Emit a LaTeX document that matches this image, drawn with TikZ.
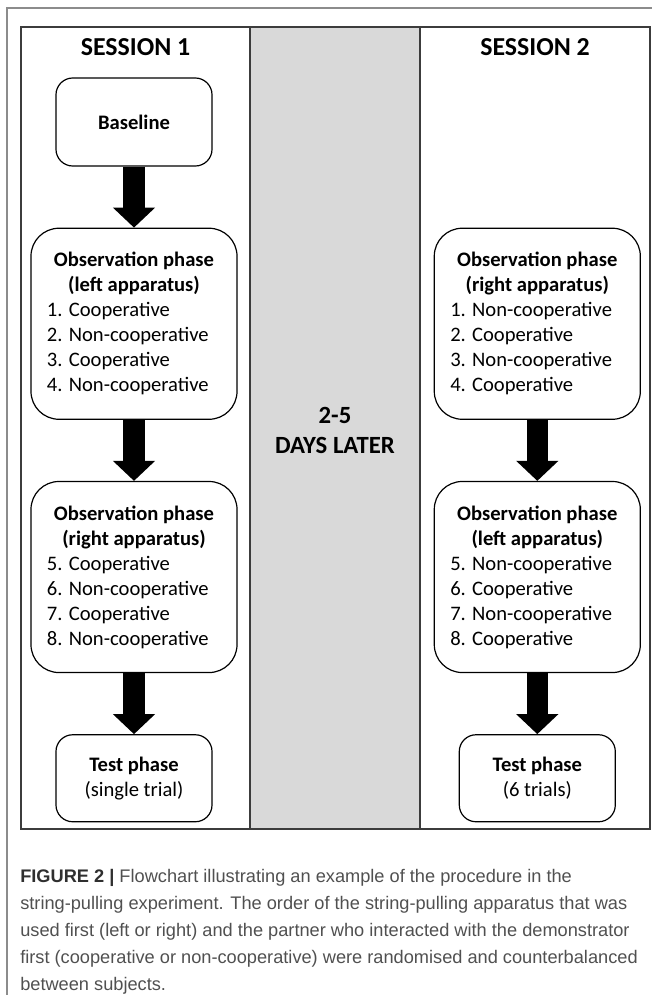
\documentclass[tikz,border=0pt]{standalone}
\usepackage{fontspec}
\setmainfont{Carlito}
\newfontfamily\capfont{Liberation Sans}
\usetikzlibrary{positioning,arrows.meta}
\definecolor{framegray}{HTML}{8C8C8C}
\definecolor{tablegray}{HTML}{3C3C3C}
\definecolor{gapgray}{HTML}{D9D9D9}
\definecolor{captext}{HTML}{505050}
\definecolor{capbold}{HTML}{2F2F2F}

\begin{document}
\begin{tikzpicture}[
    x=0.025cm, y=-0.025cm,
    node distance=1.525cm and 4.9cm,
    box/.style={rectangle, rounded corners=#1, draw=black, line width=0.85pt,
                align=center, inner sep=0pt,
                font=\fontsize{14.65}{17.8}\selectfont},
    small/.style={box=0.42cm, minimum width=3.9cm},
    obs/.style={box=0.7cm, minimum width=5.15cm, minimum height=4.775cm},
    head/.style={align=center, font=\bfseries\fontsize{18.4}{21.3}\selectfont},
    arr/.style={-{Triangle[width=1.025cm, length=0.5cm]}, line width=0.525cm},
    capnote/.style={align=left, inner sep=0pt, text=captext,
                font=\capfont\fontsize{12.95}{19.2}\selectfont}
]
\useasboundingbox (0,0) rectangle (652,995);

% frame and table
\draw[framegray, line width=0.75pt] (7,995) -- (7,8) -- (652,8);
\fill[gapgray] (250,27) rectangle (420,829);
\draw[tablegray, line width=0.9pt] (21,27) rectangle (650,829);
\draw[tablegray, line width=0.9pt] (250,27) -- (250,829);
\draw[tablegray, line width=0.9pt] (420,27) -- (420,829);

% headers
\node[head] (sessA) at (135.5,47) {SESSION 1};
\node[head] (sessB) at (535,47) {SESSION 2};
\node[head, font=\bfseries\fontsize{17.6}{21.3}\selectfont] (later) at (335,430) {2-5\\DAYS LATER};

% session 1
\node[small, minimum height=2.2cm] (baseA) at (134,122) {\textbf{Baseline}};
\node[obs, below=of baseA] (obsA1) {\textbf{Observation phase}\\\textbf{(left apparatus)}\\
    \parbox[t]{4.35cm}{1. Cooperative\\2. Non-cooperative\\3. Cooperative\\4. Non-cooperative}};
\node[obs, below=of obsA1] (obsA2) {\textbf{Observation phase}\\\textbf{(right apparatus)}\\
    \parbox[t]{4.35cm}{5. Cooperative\\6. Non-cooperative\\7. Cooperative\\8. Non-cooperative}};
\node[small, minimum height=2.175cm, below=of obsA2] (testA) {\textbf{Test phase}\\(single trial)};

% session 2
\node[obs, right=of obsA1] (obsB1) {\textbf{Observation phase}\\\textbf{(right apparatus)}\\
    \parbox[t]{4.35cm}{1. Non-cooperative\\2. Cooperative\\3. Non-cooperative\\4. Cooperative}};
\node[obs, below=of obsB1] (obsB2) {\textbf{Observation phase}\\\textbf{(left apparatus)}\\
    \parbox[t]{4.35cm}{5. Non-cooperative\\6. Cooperative\\7. Non-cooperative\\8. Cooperative}};
\node[small, minimum height=2.175cm, below=of obsB2] (testB) {\textbf{Test phase}\\(6 trials)};

\draw[arr] (baseA.south) -- (obsA1.north);
\draw[arr] (obsA1.south) -- (obsA2.north);
\draw[arr] (obsA2.south) -- (testA.north);
\draw[arr] (obsB1.south) -- (obsB2.north);
\draw[arr] (obsB2.south) -- (testB.north);

% caption
\node[capnote, anchor=north west] (caption) at (20,869.5) {\textcolor{capbold}{\textbf{FIGURE 2 |}} Flowchart illustrating an example of the procedure in the\\
string-pulling experiment. The order of the string-pulling apparatus that was\\
used first (left or right) and the partner who interacted with the demonstrator\\
first (cooperative or non-cooperative) were randomised and counterbalanced\\
between subjects.};

\end{tikzpicture}
\end{document}
